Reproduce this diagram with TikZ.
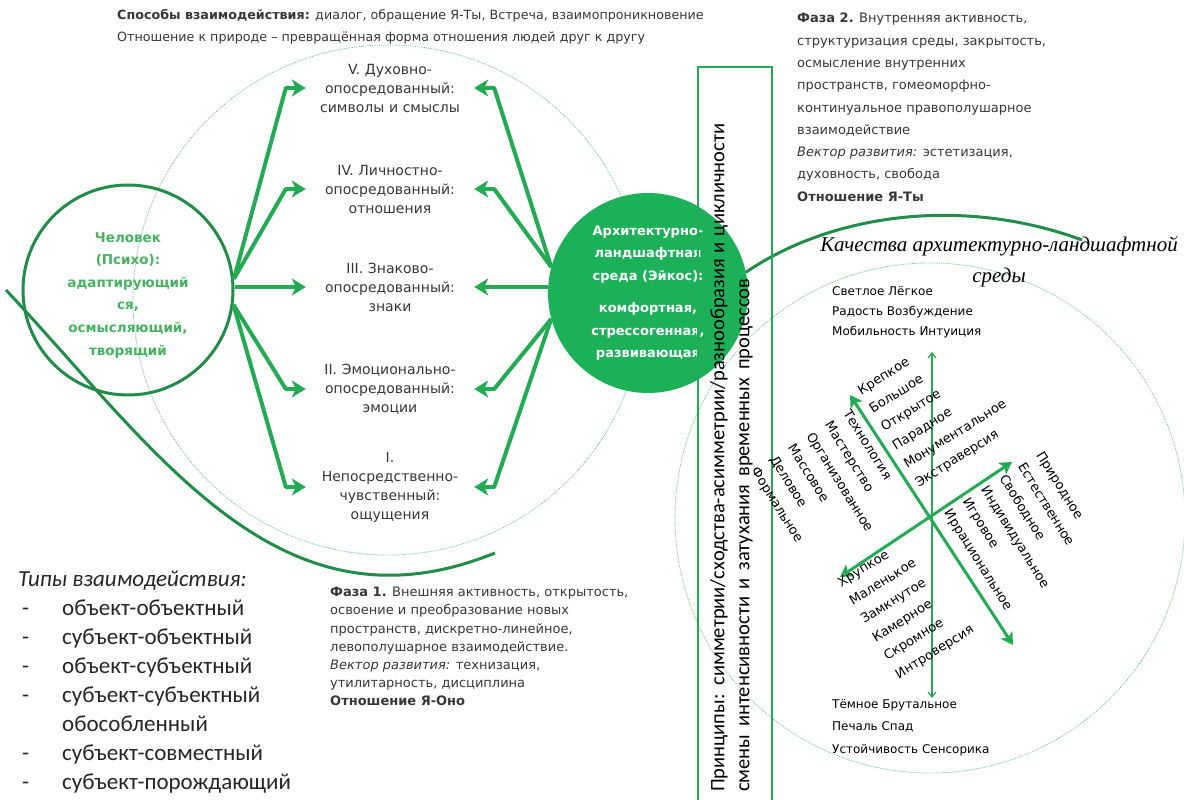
\documentclass[tikz,border=0pt]{standalone}
\usepackage{fontspec}
\setmainfont{DejaVu Sans}
\newfontfamily\calfont{Carlito}
\newfontfamily\serifit{Liberation Serif}
\usetikzlibrary{arrows.meta,positioning}

\definecolor{arrowgreen}{RGB}{36,170,84}
\definecolor{ringgreen}{RGB}{34,140,72}
\definecolor{psygreen}{RGB}{72,178,98}
\definecolor{ecogreen}{RGB}{28,176,88}
\definecolor{textgray}{RGB}{55,55,55}

\tikzset{
  stage/.style={font=\fontsize{14}{19}\selectfont, text=textgray, align=center,
    text width=160pt, inner sep=4pt},
  fatarrow/.style={draw=arrowgreen, line width=4pt, line join=round,
    -{Stealth[length=14pt,width=17pt,inset=4pt]}},
  fataxis/.style={draw=arrowgreen, line width=3pt,
    {Stealth[length=12pt,width=14pt,inset=3pt]}-{Stealth[length=12pt,width=14pt,inset=3pt]}},
  thinaxis/.style={draw=arrowgreen, line width=1.2pt,
    {Straight Barb[length=5pt,width=8pt]}-{Straight Barb[length=5pt,width=8pt]}},
  note/.style={font=\fontsize{13}{22.3}\selectfont, text=textgray, align=left,
    anchor=north west, inner sep=0pt},
  words/.style={font=\fontsize{13}{21.7}\selectfont, align=left,
    anchor=north west, inner sep=0pt},
  dotring/.style={draw=ringgreen!60, line width=0.8pt, densely dotted},
}

\begin{document}
\begin{tikzpicture}[x=1pt,y=-1pt]
  \useasboundingbox (0,0) rectangle (1184,800);
  \fill[white] (0,0) rectangle (1184,800);

  % thin dotted rings
  \draw[dotring] (388,300) circle (255pt);
  \draw[dotring] (930,518) circle (255pt);

  % header
  \node[note, font=\fontsize{12.7}{22}\selectfont] (modes) at (117,9)
    {\textbf{Способы взаимодействия:} диалог, обращение Я-Ты, Встреча, взаимопроникновение\\
     Отношение к природе – превращённая форма отношения людей друг к другу};

  % five levels
  \node[stage] (lvl5) at (390,88) {V. Духовно-\\опосредованный:\\символы и смыслы};
  \node[stage] (lvl4) at (390,189) {IV. Личностно-\\опосредованный:\\отношения};
  \node[stage] (lvl3) at (390,287) {III. Знаково-\\опосредованный:\\знаки};
  \node[stage] (lvl2) at (390,389) {II. Эмоционально-\\опосредованный:\\эмоции};
  \node[stage] (lvl1) at (390,487) {I.\\Непосредственно-\\чувственный:\\ощущения};

  % man and environment
  \node[circle, draw=ringgreen, line width=3pt, minimum size=210pt, inner sep=0pt] (psy) at (128,290) {};
  \node[text=psygreen, font=\bfseries\fontsize{13.5}{22.6}\selectfont, align=center] (psytext) at (128,295)
    {Человек\\(Психо):\\адаптирующий\\ся,\\осмысляющий,\\творящий};
  \node[circle, fill=ecogreen, minimum size=200pt, inner sep=0pt, text=white,
    font=\bfseries\fontsize{13}{22.5}\selectfont, align=center] (eco) at (648,293)
    {Архитектурно-\\ландшафтная\\среда (Эйкос):\\[10pt]комфортная,\\стрессогенная,\\развивающая};

  % arrows from man
  \draw[fatarrow] (psy.6) -- ([xshift=-20pt]lvl5.west) -- (lvl5.west);
  \draw[fatarrow] (psy.6) -- ([xshift=-20pt]lvl4.west) -- (lvl4.west);
  \draw[fatarrow] (psy.east |- lvl3.west) -- (lvl3.west);
  \draw[fatarrow] (psy.-8) -- ([xshift=-20pt]lvl2.west) -- (lvl2.west);
  \draw[fatarrow] (psy.-8) -- ([xshift=-20pt]lvl1.west) -- (lvl1.west);

  % arrows from environment
  \draw[fatarrow] (eco.165) -- ([xshift=20pt]lvl5.east) -- (lvl5.east);
  \draw[fatarrow] (eco.165) -- ([xshift=20pt]lvl4.east) -- (lvl4.east);
  \draw[fatarrow] (eco.west |- lvl3.east) -- (lvl3.east);
  \draw[fatarrow] (eco.195) -- ([xshift=20pt]lvl2.east) -- (lvl2.east);
  \draw[fatarrow] (eco.195) -- ([xshift=20pt]lvl1.east) -- (lvl1.east);

  % big green arcs
  \draw[ringgreen, line width=3pt] (6,290) .. controls (160,455) and (280,640) .. (495,553);
  \draw[ringgreen, line width=3pt] (eco.12) .. controls (830,215) and (960,195) .. (1082,240);

  % principles box
  \draw[arrowgreen, line width=1.2pt] (698,67) rectangle (772,806);
  \node[rotate=90, anchor=north west, align=left, inner sep=0pt,
    font=\calfont\fontsize{20.5}{25}\selectfont] (rules) at (710,792)
    {\makebox[668pt][s]{Принципы: симметрии/сходства-асимметрии/разнообразия и цикличности}\\
     \makebox[513pt][s]{смены интенсивности и затухания временных процессов}};

  % phase 2
  \node[note] (phase2) at (797,13)
    {\textbf{Фаза 2.} Внутренняя активность,\\
     структуризация среды, закрытость,\\
     осмысление внутренних\\
     пространств, гомеоморфно-\\
     континуальное правополушарное\\
     взаимодействие\\
     \textit{Вектор развития:} эстетизация,\\
     духовность, свобода\\
     \textbf{Отношение Я-Ты}};

  % phase 1
  \node[note, font=\fontsize{13}{18.2}\selectfont] (phase1) at (330,587)
    {\textbf{Фаза 1.} Внешняя активность, открытость,\\
     освоение и преобразование новых\\
     пространств, дискретно-линейное,\\
     левополушарное взаимодействие.\\
     \textit{Вектор развития:} технизация,\\
     утилитарность, дисциплина\\
     \textbf{Отношение Я-Оно}};

  % interaction types
  \node[anchor=north west, inner sep=0pt, text=black!85,
    font=\calfont\fontsize{23}{29}\selectfont] (types) at (18,566)
    {\begin{tabular}{@{}p{44pt}@{}l@{}}
       \multicolumn{2}{@{}l@{}}{\textit{Типы взаимодействия:}}\\
       \hspace{4pt}- & объект-объектный\\
       \hspace{4pt}- & субъект-объектный\\
       \hspace{4pt}- & объект-субъектный\\
       \hspace{4pt}- & субъект-субъектный\\
         & обособленный\\
       \hspace{4pt}- & субъект-совместный\\
       \hspace{4pt}- & субъект-порождающий
     \end{tabular}};

  % qualities of the environment
  \node[align=center, inner sep=0pt, font=\serifit\itshape\fontsize{21}{31}\selectfont]
    (quality) at (999,262) {Качества архитектурно-ландшафтной\\среды};
  \node[note, text=black, font=\fontsize{12}{20}\selectfont] (bright) at (832,286)
    {Светлое Лёгкое\\Радость Возбуждение\\Мобильность Интуиция};
  \node[note, text=black, font=\fontsize{12}{22.5}\selectfont] (dark) at (832,699)
    {Тёмное Брутальное\\Печаль Спад\\Устойчивость Сенсорика};

  % quality cross
  \coordinate (hub) at (930,518);
  \coordinate (top) at (932,352);
  \coordinate (bottom) at (932,698);
  \coordinate (nw) at (850,395);
  \coordinate (se) at (1013,645);
  \coordinate (sw) at (840,577);
  \coordinate (ne) at (1012,462);
  \draw[thinaxis] (bottom) -- (top);
  \draw[fataxis] (nw) -- (se);
  \draw[fataxis] (sw) -- (ne);

  \node[words, rotate=32] (strong) at (856,387)
    {Крепкое\\Большое\\Открытое\\Парадное\\Монументальное\\Экстраверсия};
  \node[words, rotate=32] (fragile) at (836,579)
    {Хрупкое\\Маленькое\\Замкнутое\\Камерное\\Скромное\\Интроверсия};
  \node[words, rotate=-58] (techno) at (851,408)
    {Технология\\Мастерство\\Организованное\\Массовое\\Деловое\\Формальное};
  \node[words, rotate=-58] (natural) at (1044,450)
    {Природное\\Естественное\\Свободное\\Индивидуальное\\Игровое\\Иррациональное};
\end{tikzpicture}
\end{document}
